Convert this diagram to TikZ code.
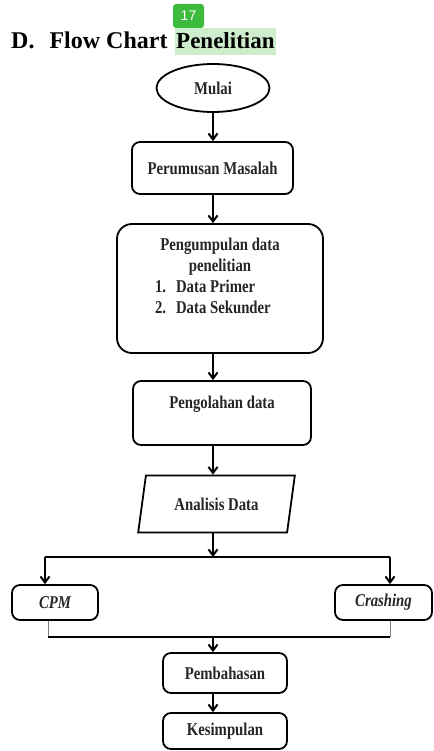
\documentclass[tikz,border=0pt]{standalone}
\usepackage{fontspec}
\setmainfont{Liberation Serif}
\setsansfont{Liberation Sans}
\newfontfamily\boxfont[FakeStretch=0.82]{Liberation Serif}
\usetikzlibrary{shapes.geometric,arrows.meta}
\definecolor{badgegreen}{HTML}{3DBB3D}
\definecolor{markgreen}{HTML}{CDEDCD}
\tikzset{
    kotak/.style={draw,line width=1.8pt,inner sep=0pt,align=center,text=black!85,
        font=\boxfont\bfseries\fontsize{18}{21}\selectfont},
    proses/.style={kotak,rounded corners=8pt},
    alur/.style={line width=1.8pt,-{Straight Barb[length=6pt,width=9pt,line width=2pt]}},
    garis/.style={line width=1.8pt},
}
\begin{document}
\begin{tikzpicture}[x=1pt,y=-1pt]
            \useasboundingbox (0,0) rectangle (433,751);
            \node[anchor=base west,inner sep=0pt,font=\bfseries\fontsize{24}{28}\selectfont] (judul) at (11,49) {D.\hspace{15pt}Flow Chart};
            \node[anchor=base west,inner xsep=1pt,inner ysep=1pt,text height=20pt,text depth=5pt,fill=markgreen,
                font=\bfseries\fontsize{23}{27}\selectfont] (sorot) at (175,49) {Penelitian};
            \node[fill=badgegreen,rounded corners=3pt,minimum width=31pt,minimum height=24pt,inner sep=0pt,
                text=white,font=\sffamily\fontsize{14}{16}\selectfont] (badge) at (188.5,16) {17};

            \node[kotak,ellipse,minimum width=113pt,minimum height=48pt] (mulai) at (213,88) {Mulai};
            \node[proses,minimum width=161pt,minimum height=52pt] (rumus) at (212.5,168) {Perumusan Masalah};
            \node[proses,rounded corners=15pt,minimum width=206pt,minimum height=129pt] (kumpul) at (220,288.5)
                {Pengumpulan data\\penelitian\\
                \makebox[130pt][l]{1.\hspace{10pt}Data Primer}\\
                \makebox[130pt][l]{2.\hspace{10pt}Data Sekunder}\\[4pt]};
            \node[proses,minimum width=178pt,minimum height=64pt] (olah) at (222,413) {Pengolahan data\\~};
            \node[kotak,trapezium,trapezium left angle=70,trapezium right angle=110,trapezium stretches=true,
                minimum width=157pt,minimum height=57pt] (analisis) at (216.5,504) {Analisis Data};
            \node[proses,minimum width=86pt,minimum height=35pt] (cpm) at (55,602.5) {\itshape CPM};
            \node[proses,minimum width=97pt,minimum height=35pt] (crash) at (383.5,602.5) {\itshape Crashing};
            \node[proses,minimum width=124pt,minimum height=40pt] (bahas) at (225,673) {Pembahasan};
            \node[proses,minimum width=124pt,minimum height=36pt] (simpul) at (225,731) {Kesimpulan};

            \coordinate (poros) at (213,0);
            \coordinate (kiri) at (45,557);
            \coordinate (kanan) at (390,557);
            \coordinate (kiribawah) at (48,637);
            \coordinate (kananbawah) at (390,637);

            \draw[alur] (poros |- mulai.south) -- (poros |- rumus.north);
            \draw[alur] (poros |- rumus.south) -- (poros |- kumpul.north);
            \draw[alur] (poros |- kumpul.south) -- (poros |- olah.north);
            \draw[alur] (poros |- olah.south) -- (poros |- analisis.north);
            \draw[alur] (poros |- analisis.south) -- (poros |- kiri);
            \draw[garis] (kiri) -- (kanan);
            \draw[alur] (kiri) -- (kiri |- cpm.north);
            \draw[alur] (kanan) -- (kanan |- crash.north);
            \draw[gray,line width=0.6pt] (kiribawah |- cpm.south) -- (kiribawah);
            \draw[gray,line width=0.6pt] (kananbawah |- crash.south) -- (kananbawah);
            \draw[garis] (kiribawah) -- (kananbawah);
            \draw[alur] (poros |- kiribawah) -- (poros |- bahas.north);
            \draw[alur] (poros |- bahas.south) -- (poros |- simpul.north);
        \end{tikzpicture}
\end{document}
